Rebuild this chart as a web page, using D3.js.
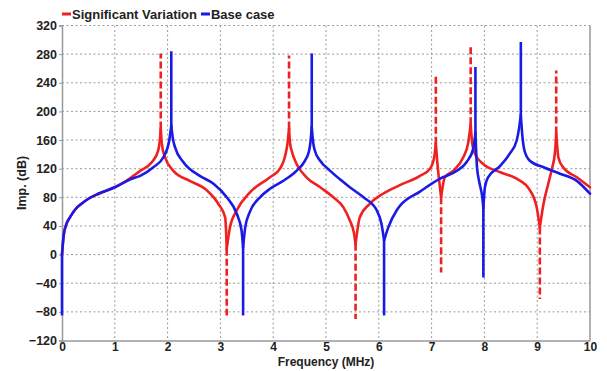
<!DOCTYPE html>
<html>
<head>
<meta charset="utf-8">
<script src="https://cdn.jsdelivr.net/npm/d3@7"></script>
<style>
  body { margin: 0; background: #fff; }
  text { font-family: "Liberation Sans", Arial, sans-serif; font-weight: bold; fill: #222; }
</style>
</head>
<body>
<div id="chart"></div>
<script>
// x ticks / y ticks
var xTicks = [0, 1, 2, 3, 4, 5, 6, 7, 8, 9, 10];
var yTicks = [-120, -80, -40, 0, 40, 80, 120, 160, 200, 240, 280, 320];

// Base case curve (freq MHz, dB)
var baseFreq = [0, 0.03, 0.08, 0.15, 0.25, 0.37, 0.5, 0.69, 1.0, 1.32, 1.48, 1.73, 1.92, 2.03, 2.07,
  2.10, 2.14, 2.30, 2.61, 2.87, 3.12, 3.31, 3.40, 3.43,
  3.47, 3.56, 3.75, 3.94, 4.19, 4.44, 4.60, 4.68, 4.71, 4.73,
  4.76, 4.79, 4.89, 5.08, 5.30, 5.45, 5.71, 5.96, 6.05, 6.10,
  6.18, 6.34, 6.40, 6.78, 7.16, 7.48, 7.66, 7.79, 7.83,
  7.86, 7.91, 7.96, 7.98,
  8.01, 8.07, 8.30, 8.48, 8.61, 8.66, 8.69,
  8.72, 8.76, 8.86, 9.12, 9.43, 9.75, 10];
var baseImp = [0, 26, 42, 52, 63, 71, 78, 85, 94, 106, 110, 122, 136, 159, 180,
  162, 150, 129, 110, 99, 80, 57, 34, 10,
  38, 60, 80, 92, 103, 117, 131, 145, 160, 178,
  155, 145, 131, 117, 103, 94, 80, 62, 43, 20,
  38, 62, 68, 88, 106, 117, 129, 148, 170,
  122, 99, 80, 65,
  94, 108, 124, 141, 159, 178, 195,
  165, 145, 131, 122, 113, 103, 85];

// Significant variation curve
var varFreq = [0, 0.03, 0.08, 0.15, 0.25, 0.37, 0.5, 0.69, 1.0, 1.13, 1.48, 1.70, 1.82, 1.86, 1.87,
  1.89, 1.95, 2.11, 2.42, 2.74, 2.96, 3.09, 3.11, 3.12,
  3.18, 3.31, 3.56, 3.94, 4.13, 4.22, 4.27, 4.30,
  4.32, 4.35, 4.44, 4.63, 4.89, 5.14, 5.33, 5.45, 5.53, 5.56,
  5.64, 5.83, 6.08, 6.40, 6.78, 6.97, 7.05, 7.08,
  7.11, 7.15, 7.18,
  7.25, 7.41, 7.60, 7.69, 7.74,
  7.77, 7.82, 7.97, 8.30, 8.61, 8.86, 8.99, 9.04, 9.05,
  9.12, 9.21, 9.27, 9.34, 9.36,
  9.38, 9.40, 9.49, 9.75, 10];
var varImp = [0, 26, 42, 52, 63, 71, 78, 85, 94, 99, 117, 129, 145, 165, 176,
  155, 136, 117, 103, 90, 71, 52, 29, 8,
  38, 62, 87, 108, 120, 136, 155, 176,
  155, 145, 127, 108, 94, 80, 66, 48, 30, 15,
  52, 71, 85, 97, 110, 120, 136, 155,
  127, 99, 80,
  108, 117, 136, 155, 182,
  155, 141, 127, 115, 106, 90, 66, 43, 38,
  71, 99, 117, 145, 169,
  150, 136, 122, 108, 94];

// resonance spikes (vertical parts)
var baseSpikeFreq = [0, 2.07, 3.43, 4.73, 6.10, 7.83, 7.98, 8.69];
var baseSpikeFrom = [0, 180, 10, 178, 20, 170, 65, 195];
var baseSpikeTo   = [-85, 284, -85, 281, -85, 262, -32, 297];

var varSpikeFreq = [1.87, 3.12, 4.30, 5.56, 7.08, 7.18, 7.74, 9.05, 9.36];
var varSpikeFrom = [176, 8, 176, 15, 155, 80, 182, 38, 169];
var varSpikeTo   = [281, -85, 278, -90, 250, -25, 290, -62, 257];

var W = 607, H = 371;
var margin = {left: 62, right: 17, top: 25.5, bottom: 30};
var width = W - margin.left - margin.right;
var height = H - margin.top - margin.bottom - 0.5;

var redColor = "#f02020";
var blueColor = "#1a1ae6";

var svg = d3.select("#chart").append("svg")
  .attr("width", W)
  .attr("height", H);

var g = svg.append("g")
  .attr("transform", "translate(" + margin.left + "," + margin.top + ")");

var x = d3.scaleLinear().domain([0, 10]).range([0, width]);
var y = d3.scaleLinear().domain([-120, 320]).range([height, 0]);

// grid
g.selectAll(".vgrid").data(xTicks.slice(1, -1)).enter().append("line")
  .attr("x1", function(d){ return x(d); })
  .attr("x2", function(d){ return x(d); })
  .attr("y1", 0).attr("y2", height)
  .attr("stroke", "#9a9a9a").attr("stroke-width", 1)
  .attr("stroke-dasharray", "2,2.5");

g.selectAll(".hgrid").data(yTicks.slice(1)).enter().append("line")
  .attr("y1", function(d){ return y(d); })
  .attr("y2", function(d){ return y(d); })
  .attr("x1", 0).attr("x2", width)
  .attr("stroke", "#9a9a9a").attr("stroke-width", 1)
  .attr("stroke-dasharray", "2,2.5");

// axes
var yAxis = g.append("g")
  .call(d3.axisLeft(y).tickValues(yTicks).tickSize(3).tickPadding(2));
var xAxis = g.append("g")
  .attr("transform", "translate(0," + height + ")")
  .call(d3.axisBottom(x).tickValues(xTicks).tickSize(0).tickPadding(2));

[yAxis, xAxis].forEach(function(a){
  a.select(".domain").attr("stroke", "#999").attr("stroke-width", 1.5);
  a.selectAll(".tick line").attr("stroke", "#999");
  a.selectAll("text").style("font-size", "12.5px").attr("fill", "#222");
});
xAxis.selectAll("text").style("font-size", "12px");

// right border
g.append("line")
  .attr("x1", width).attr("x2", width)
  .attr("y1", 0).attr("y2", height)
  .attr("stroke", "#999").attr("stroke-width", 1.5);

var line = d3.line()
  .x(function(d){ return x(d[0]); })
  .y(function(d){ return y(d[1]); })
  .curve(d3.curveMonotoneX);

// cut a curve into pieces at its spikes so every cusp stays sharp
function splitAtSpikes(freq, imp, spikes) {
  var pieces = [], cur = [];
  freq.forEach(function(f, i){
    cur.push([f, imp[i]]);
    if (i > 0 && spikes.indexOf(f) >= 0) {
      pieces.push(cur);
      cur = [[f, imp[i]]];
    }
  });
  if (cur.length > 1) pieces.push(cur);
  return pieces;
}

function drawSeries(freq, imp, sFreq, sFrom, sTo, color, dash) {
  g.append("g").selectAll("path")
    .data(splitAtSpikes(freq, imp, sFreq))
    .enter().append("path")
    .attr("d", line)
    .attr("fill", "none")
    .attr("stroke", color)
    .attr("stroke-width", 2.6)
    .attr("stroke-linecap", "round");

  g.append("g").selectAll("line")
    .data(d3.range(sFreq.length))
    .enter().append("line")
    .attr("x1", function(i){ return x(sFreq[i]); })
    .attr("x2", function(i){ return x(sFreq[i]); })
    .attr("y1", function(i){ return y(sFrom[i]); })
    .attr("y2", function(i){ return y(sTo[i]); })
    .attr("stroke", color)
    .attr("stroke-width", 2.6)
    .attr("stroke-dasharray", dash);
}

drawSeries(varFreq, varImp, varSpikeFreq, varSpikeFrom, varSpikeTo, redColor, "7,3");
drawSeries(baseFreq, baseImp, baseSpikeFreq, baseSpikeFrom, baseSpikeTo, blueColor, null);

// axis titles
svg.append("text")
  .attr("x", margin.left + width / 2)
  .attr("y", 366)
  .attr("text-anchor", "middle")
  .style("font-size", "12px")
  .text("Frequency (MHz)");

svg.append("text")
  .attr("transform", "translate(26," + (margin.top + height / 2) + ") rotate(-90)")
  .attr("text-anchor", "middle")
  .style("font-size", "12.5px")
  .text("Imp. (dB)");

// legend
var legendNames = ["Significant Variation", "Base case"];
var legendColors = [redColor, blueColor];
var lg = svg.append("g").attr("transform", "translate(62,14)");
var lx = 0;
legendNames.forEach(function(name, i){
  lg.append("line")
    .attr("x1", lx).attr("x2", lx + 9)
    .attr("y1", 0).attr("y2", 0)
    .attr("stroke", legendColors[i]).attr("stroke-width", 3);
  var t = lg.append("text")
    .attr("x", lx + 10)
    .attr("y", 4.5)
    .style("font-size", "13px")
    .text(name);
  lx += 10 + t.node().getComputedTextLength() + 4;
});
</script>
</body>
</html>
